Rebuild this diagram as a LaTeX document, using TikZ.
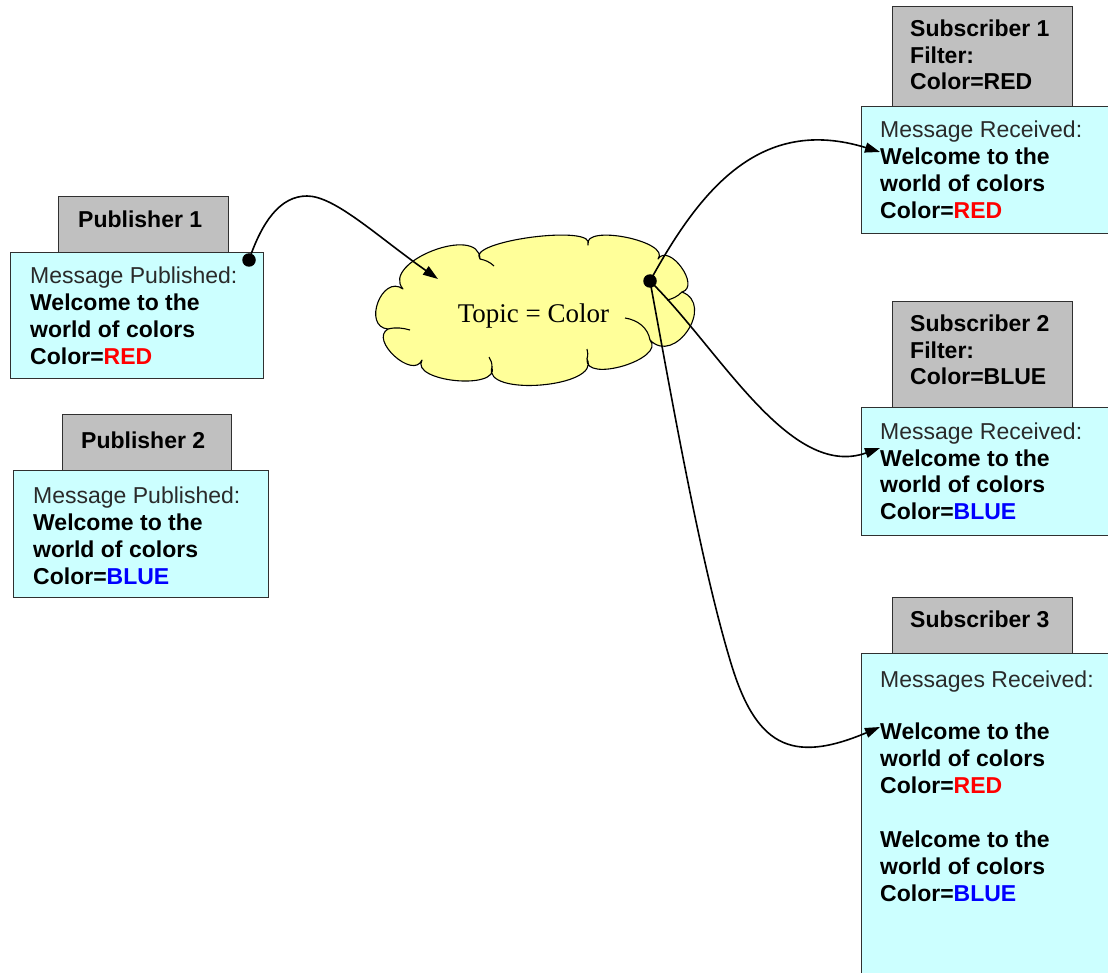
\documentclass[tikz,border=0pt]{standalone}
\usepackage{fontspec}
\setmainfont{Liberation Sans}
\newfontfamily\topicfont{Liberation Serif}
\usetikzlibrary{arrows.meta}
\definecolor{boxcyan}{HTML}{CCFFFF}
\definecolor{boxgray}{HTML}{C0C0C0}
\definecolor{cloudyellow}{HTML}{FFFF99}
\definecolor{msgred}{HTML}{FF0000}
\definecolor{msgblue}{HTML}{0000FF}
\definecolor{edgegray}{HTML}{303030}
\definecolor{labelgray}{HTML}{2A2A2A}
\begin{document}
\begin{tikzpicture}[x=1pt,y=-1pt,
  titlebox/.style={draw=edgegray,fill=boxgray,line width=1.3pt,anchor=north west,inner sep=0pt},
  msgbox/.style={draw=edgegray,fill=boxcyan,line width=1.3pt,anchor=north west,inner sep=0pt},
  boxtext/.style={anchor=north west,inner sep=0pt,align=left,font=\fontsize{23}{26.9}\selectfont},
  conn/.style={line width=1.6pt,-{Triangle[length=15pt,width=10pt]}},
  cloudline/.style={draw=black,line width=1.1pt,line join=round},
  seam/.style={line width=1.1pt},
  hubdot/.style={circle,fill=black,inner sep=0pt,minimum size=13.5pt}]
\useasboundingbox (0,0) rectangle (1108,973);
\fill[white] (0,0) rectangle (1108,973);

% Publisher 1
\node[titlebox,minimum width=170pt,minimum height=57pt] (p1title) at (58,196) {};
\node[msgbox,minimum width=253pt,minimum height=126pt] (p1box) at (10,252) {};
\node[boxtext] (p1titletext) at (78,210.7) {\textbf{Publisher 1}};
\node[boxtext] (p1text) at (30,266.5) {\textcolor{labelgray}{Message Published:}\\
  \textbf{Welcome to the}\\ \textbf{world of colors}\\ \textbf{Color=\textcolor{msgred}{RED}}};

% Publisher 2
\node[titlebox,minimum width=169pt,minimum height=57pt] (p2title) at (62,414) {};
\node[msgbox,minimum width=255pt,minimum height=127pt] (p2box) at (13,470) {};
\node[boxtext] (p2titletext) at (81,431.7) {\textbf{Publisher 2}};
\node[boxtext] (p2text) at (33,486.5) {\textcolor{labelgray}{Message Published:}\\
  \textbf{Welcome to the}\\ \textbf{world of colors}\\ \textbf{Color=\textcolor{msgblue}{BLUE}}};

% Subscriber 1
\node[titlebox,minimum width=180pt,minimum height=100pt] (s1title) at (892,6) {};
\node[msgbox,minimum width=250pt,minimum height=127pt] (s1box) at (861,106) {};
\node[boxtext,font=\fontsize{23}{26.4}\selectfont] (s1titletext) at (910,20) {\textbf{Subscriber 1}\\ \textbf{Filter:}\\ \textbf{Color=RED}};
\node[boxtext] (s1text) at (880,121) {\textcolor{labelgray}{Message Received:}\\
  \textbf{Welcome to the}\\ \textbf{world of colors}\\ \textbf{Color=\textcolor{msgred}{RED}}};

% Subscriber 2
\node[titlebox,minimum width=180pt,minimum height=106pt] (s2title) at (892,301) {};
\node[msgbox,minimum width=250pt,minimum height=128pt] (s2box) at (861,406.7) {};
\node[boxtext,font=\fontsize{23}{26.4}\selectfont] (s2titletext) at (910,315) {\textbf{Subscriber 2}\\ \textbf{Filter:}\\ \textbf{Color=BLUE}};
\node[boxtext] (s2text) at (880,422.3) {\textcolor{labelgray}{Message Received:}\\
  \textbf{Welcome to the}\\ \textbf{world of colors}\\ \textbf{Color=\textcolor{msgblue}{BLUE}}};

% Subscriber 3
\node[titlebox,minimum width=180pt,minimum height=56pt] (s3title) at (892,597) {};
\node[msgbox,minimum width=250pt,minimum height=330pt] (s3box) at (861,653) {};
\node[boxtext] (s3titletext) at (910,611) {\textbf{Subscriber 3}};
\node[boxtext,font=\fontsize{23}{27.1}\selectfont] (s3text) at (880,670.7) {\textcolor{labelgray}{Messages Received:}\\[24.5pt]
  \textbf{Welcome to the}\\ \textbf{world of colors}\\ \textbf{Color=\textcolor{msgred}{RED}}\\[27pt]
  \textbf{Welcome to the}\\ \textbf{world of colors}\\ \textbf{Color=\textcolor{msgblue}{BLUE}}};

% Topic cloud (drawn outline with puffs)
\filldraw[cloudline,fill=cloudyellow]
  (403,289) .. controls +(-23,-26.7) and +(-1,-35.3) .. (480,259)
  .. controls +(-15.5,-18.1) and +(10.3,-21.5) .. (588,245)
  .. controls +(-5.8,-21.6) and +(13.8,-17.6) .. (658,259)
  .. controls +(11,-16.7) and +(19.2,-5.3) .. (682,292)
  .. controls +(33.4,12.7) and +(24.6,25.9) .. (650,340)
  .. controls +(16.2,18.9) and +(-3,24.7) .. (587,359)
  .. controls +(15.3,28.3) and +(-10.7,30.3) .. (492,367)
  .. controls +(7.7,23.7) and +(-12.3,21.7) .. (422,360)
  .. controls +(-8.8,20.2) and +(-19.2,10.8) .. (388,329)
  .. controls +(-26,-2.2) and +(-21,-15.4) .. cycle;
% inner seams of the cloud
\draw[seam] (388,329) .. controls (396,327) and (403,328) .. (410,330);
\draw[seam] (480,259) .. controls (485,260) and (490,262) .. (494,266);
\draw[seam] (650,340) .. controls (648,328) and (638,320) .. (625,318);
\draw[seam] (682,292) .. controls (677,297) and (672,299) .. (667,300);
\draw[seam] (587,359) .. controls (588,355) and (588,352) .. (587,349);
\draw[seam] (492,367) .. controls (492,363) and (491,360) .. (489,357);
\node[inner sep=0pt,font=\topicfont\fontsize{27}{30}\selectfont] (topic) at (533.5,316.5) {Topic = Color};

% dots and connector end points
\node[hubdot] (p1dot) at (249,260) {};
\node[hubdot] (hub) at (650,281) {};
\coordinate (topicin) at (438,279);
\coordinate (s1in) at (880,152);
\coordinate (s2in) at (880,448);
\coordinate (s3in) at (880,727);

\draw[conn] (p1dot.center) .. controls (262,222) and (280,196) .. (307,196)
  .. controls (335,196) and (378,237) .. (topicin);
\draw[conn] (hub.center) .. controls (700,190) and (760,115) .. (s1in);
\draw[conn] (hub.center) .. controls (720,350) and (790,480) .. (s2in);
\draw[conn] (hub.center) .. controls (672,400) and (700,560) .. (730,660)
  .. controls (755,745) and (790,765) .. (s3in);
\end{tikzpicture}
\end{document}
